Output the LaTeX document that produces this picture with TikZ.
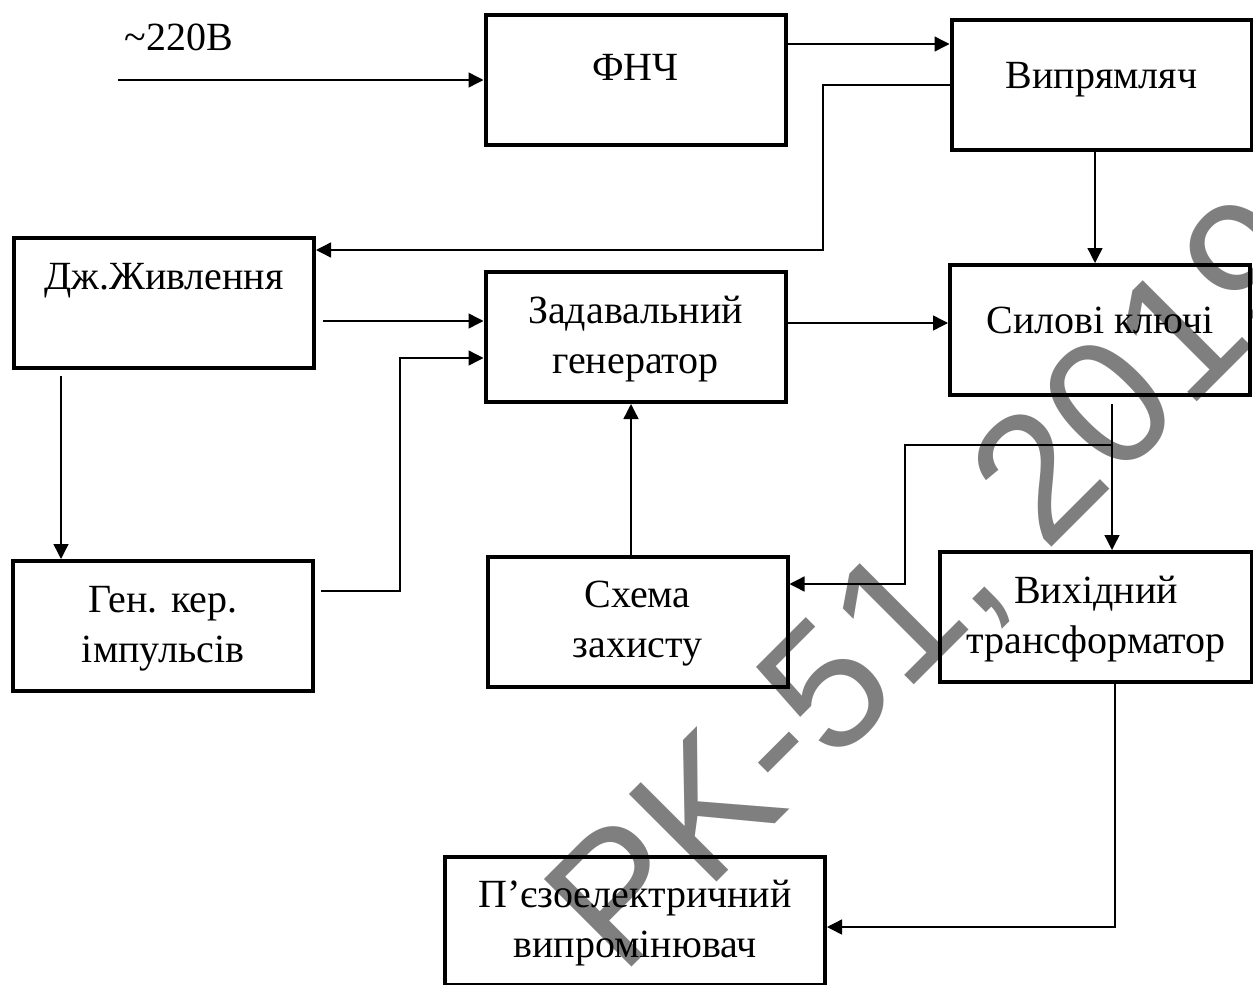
\documentclass[tikz,border=0pt]{standalone}
\usepackage{fontspec}
\setmainfont{Liberation Serif}
\newfontfamily\znakfont{Liberation Sans}
\usepackage{tikz}
\usetikzlibrary{arrows.meta,positioning}

\begin{document}
\begin{tikzpicture}[x=0.5pt,y=-0.5pt]
  \tikzstyle{blok}=[draw,line width=2pt,minimum width=150pt,minimum height=65pt,inner sep=0pt,
                    align=center,font=\fontsize{20pt}{25pt}\selectfont,text height=40pt,text depth=4pt]
  \tikzstyle{strilka}=[-{Triangle[length=7.5pt,width=7.5pt]},line width=0.7pt]

  \useasboundingbox (0,0) rectangle (1253,985);

  \foreach \name/\pos/\glyb/\text in {fnch/{635.5,80}/14.3pt/{ФНЧ}, vypr/{1101.5,85}/11.8pt/{Випрямляч},
                                      dzh/{164,303}/28.3pt/{Дж.Живлення}, sylovi/{1100,330}/11.8pt/{Силові ключі}}
    \node[blok,text height=15pt,text depth=\glyb] (\name) at (\pos) {\text};
  \foreach \name/\pos/\text in {zadav/{635.5,337}/{Задавальний\\генератор}, gen/{163,626}/{Ген. кер.\\імпульсів},
                                skhema/{637.5,621.5}/{Схема\\захисту}}
    \node[blok] (\name) at (\pos) {\text};
  \node[blok,minimum width=156pt] (vykh) at (1096,617) {Вихідний\\трансформатор};
  \node[blok,minimum width=190pt,minimum height=64pt] (piezo) at (635,921) {П’єзоелектричний\\випромінювач};

  \node[font=\fontsize{20pt}{25pt}\selectfont,inner sep=0pt] (napruga) at (179,37) {\textasciitilde220В};

  \coordinate (vhid) at (118,80);
  \coordinate (r1) at (0,44);
  \coordinate (r2) at (823,250);
  \coordinate (r3) at (0,321);
  \coordinate (r4) at (400,591);
  \coordinate (r5) at (400,358);
  \coordinate (r6) at (0,323);
  \coordinate (r7) at (1095,0);
  \coordinate (r8) at (1112,445);
  \coordinate (r9) at (905,584);
  \coordinate (r10) at (61,0);
  \coordinate (r11) at (631,0);
  \coordinate (r12) at (1115,927);

  \draw[strilka] (vhid) -- (fnch.west);
  \draw[strilka] (fnch.east |- r1) -- (vypr.west |- r1);
  \draw[strilka] (vypr.west) -| (r2) -- (dzh.east |- r2);
  \draw[strilka,shorten <=3.5pt] (dzh.east |- r3) -- (zadav.west |- r3);
  \draw[strilka,shorten <=3pt] (gen.east |- r4) -| (r5) -- (zadav.west |- r5);
  \draw[strilka] (zadav.east |- r6) -- (sylovi.west |- r6);
  \draw[strilka] (vypr.south -| r7) -- (sylovi.north -| r7);
  \draw[strilka,shorten <=3.5pt] (sylovi.south -| r8) -- (vykh.north -| r8);
  \draw[strilka] (r8) -| (r9) -- (skhema.east |- r9);
  \draw[strilka,shorten <=3pt] (dzh.south -| r10) -- (gen.north -| r10);
  \draw[strilka] (skhema.north -| r11) -- (zadav.south -| r11);
  \draw[strilka] (vykh.south -| r12) |- (piezo.east |- r12);

  \node[rotate=45,anchor=base west,inner sep=0pt,opacity=0.5,
        font=\znakfont\fontsize{90pt}{90pt}\selectfont] (znak) at (621,978) {PK-51, 2019};
\end{tikzpicture}
\end{document}
